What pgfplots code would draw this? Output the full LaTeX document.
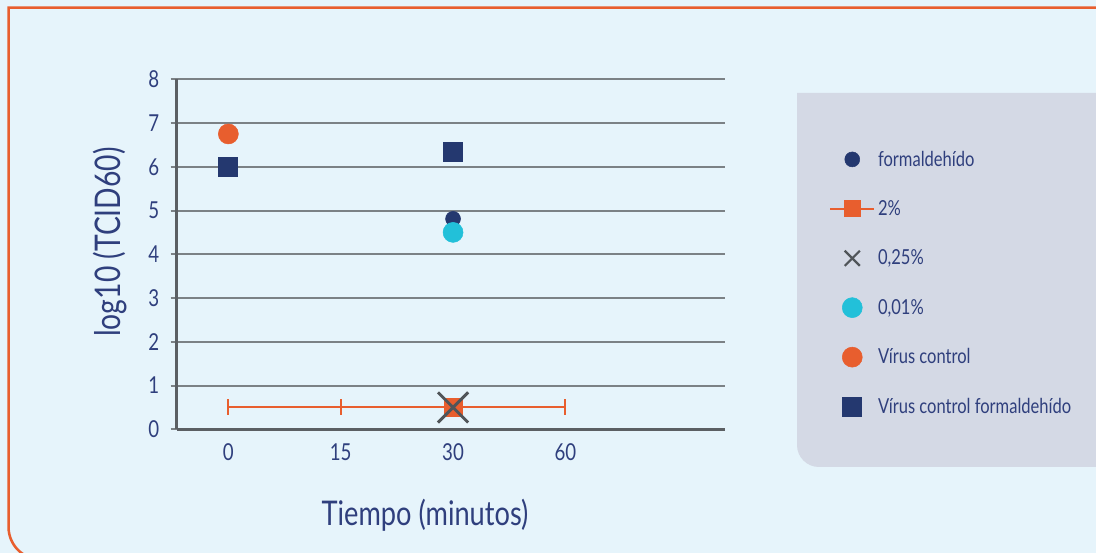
\documentclass[border=0pt]{standalone}
\usepackage{fontspec}
\setmainfont{Lato}[FakeStretch=0.8]
\usepackage{pgfplots}
\pgfplotsset{compat=1.18}
\definecolor{bgC}{HTML}{E6F4FB}
\definecolor{legC}{HTML}{D4D9E5}
\definecolor{navyC}{HTML}{24386F}
\definecolor{orangeC}{HTML}{E85E2E}
\definecolor{cyanC}{HTML}{22C0D9}
\definecolor{xgrayC}{HTML}{505559}
\definecolor{gridC}{HTML}{7B8185}
\definecolor{axisC}{HTML}{5B5F63}
\definecolor{textC}{HTML}{2F3F7D}
\pgfplotsset{
  legplain/.style={legend image code/.code={\draw[mark repeat=2,mark phase=2,##1] plot coordinates {(0pt,0pt)(16.5pt,0pt)(33pt,0pt)};}},
  legtwo/.style={legend image code/.code={\draw[orangeC, line width=1.6pt] (0pt,0pt)--(33pt,0pt); \draw[##1, mark size=6pt] plot coordinates {(16.5pt,0pt)};}},
  legx/.style={legend image code/.code={\draw[##1, mark size=8pt, mark options={line width=1.6pt}] plot coordinates {(16.5pt,0pt)};}},
}
\begin{document}
\begin{tikzpicture}
\path[use as bounding box] (0,0) rectangle (822pt,414.75pt);
\begin{scope}
\clip (0,0) rectangle (822pt,414.75pt);
\fill[bgC] (-5pt,-5pt) rectangle (830pt,420pt);
\draw[orangeC, line width=1.9pt] (830pt,409.1pt) -- (6.4pt,409.1pt) -- (6.4pt,19.5pt) arc[start angle=180,end angle=270,radius=24.4pt] -- (830pt,-4.9pt);
\fill[legC] (830pt,345pt) -- (597.75pt,345pt) -- (597.75pt,81pt) arc[start angle=180,end angle=270,radius=16.5pt] -- (830pt,64.5pt) -- cycle;
\end{scope}
\begin{axis}[
  at={(132.5pt,92.8pt)}, anchor=south west,
  scale only axis, width=411.2pt, height=262.5pt,
  xmin=-0.46, xmax=4.42, ymin=0, ymax=8,
  clip=false,
  xtick={0,1,2,3}, xticklabels={0,15,30,60},
  ytick={0,1,2,3,4,5,6,7,8},
  axis x line=bottom, axis y line=left,
  axis line style={-, draw=axisC, line width=2.2pt},
  ymajorgrids, grid style={draw=gridC, line width=1.5pt},
  tick align=outside, major tick length=4.5pt,
  ytick style={draw=gridC, line width=1.5pt},
  xtick style={draw=none},
  /pgf/number format/assume math mode=true,
  yticklabel style={font=\fontsize{17.5}{20}\selectfont, text=textC, xshift=-5pt},
  xticklabel style={font=\fontsize{17.5}{20}\selectfont, text=textC, yshift=-3pt},
  xlabel={Tiempo (minutos)}, ylabel={log10 (TCID60)},
  every axis x label/.style={at={(axis description cs:0.453,-0.245)}, anchor=center, font=\fontsize{25.5}{30}\selectfont, text=textC},
  every axis y label/.style={at={(axis description cs:-0.1217,0.535)}, anchor=center, rotate=90, font=\fontsize{26.5}{30}\selectfont, text=textC},
  legplain,
  legend style={at={(axis description cs:1.1897,0.804)}, anchor=north west, draw=none, fill=none,
    font=\fontsize{15.5}{18}\selectfont, text=textC, row sep=20.3pt, inner sep=0pt, cells={anchor=west}},
]
\addplot[forget plot, draw=orangeC, line width=1.6pt, mark=|, mark size=6pt, mark options={line width=1.6pt}] coordinates {(0,0.5) (1,0.5) (2,0.5) (3,0.5)};
\addplot[only marks, mark=*, mark size=5.6pt, navyC, mark options={fill=navyC, draw=navyC}] coordinates {(2,4.81)};
\addlegendentry{formaldehído}
\addplot[only marks, mark=square*, mark size=6.75pt, orangeC, mark options={fill=orangeC, draw=orangeC, line width=0pt}, legtwo] coordinates {(2,0.5)};
\addlegendentry{2\%}
\addplot[only marks, mark=x, mark size=16pt, xgrayC, mark options={line width=2.2pt}, legx] coordinates {(2,0.5)};
\addlegendentry{0,25\%}
\addplot[only marks, mark=*, mark size=7.5pt, cyanC, mark options={fill=cyanC, draw=cyanC}] coordinates {(2,4.5)};
\addlegendentry{0,01\%}
\addplot[only marks, mark=*, mark size=7.5pt, orangeC, mark options={fill=orangeC, draw=orangeC}] coordinates {(0,6.75)};
\addlegendentry{Vírus control}
\addplot[only marks, mark=square*, mark size=7.1pt, navyC, mark options={fill=navyC, draw=navyC, line width=0pt}] coordinates {(0,6) (2,6.33)};
\addlegendentry{Vírus control formaldehído}
\end{axis}
\end{tikzpicture}
\end{document}
